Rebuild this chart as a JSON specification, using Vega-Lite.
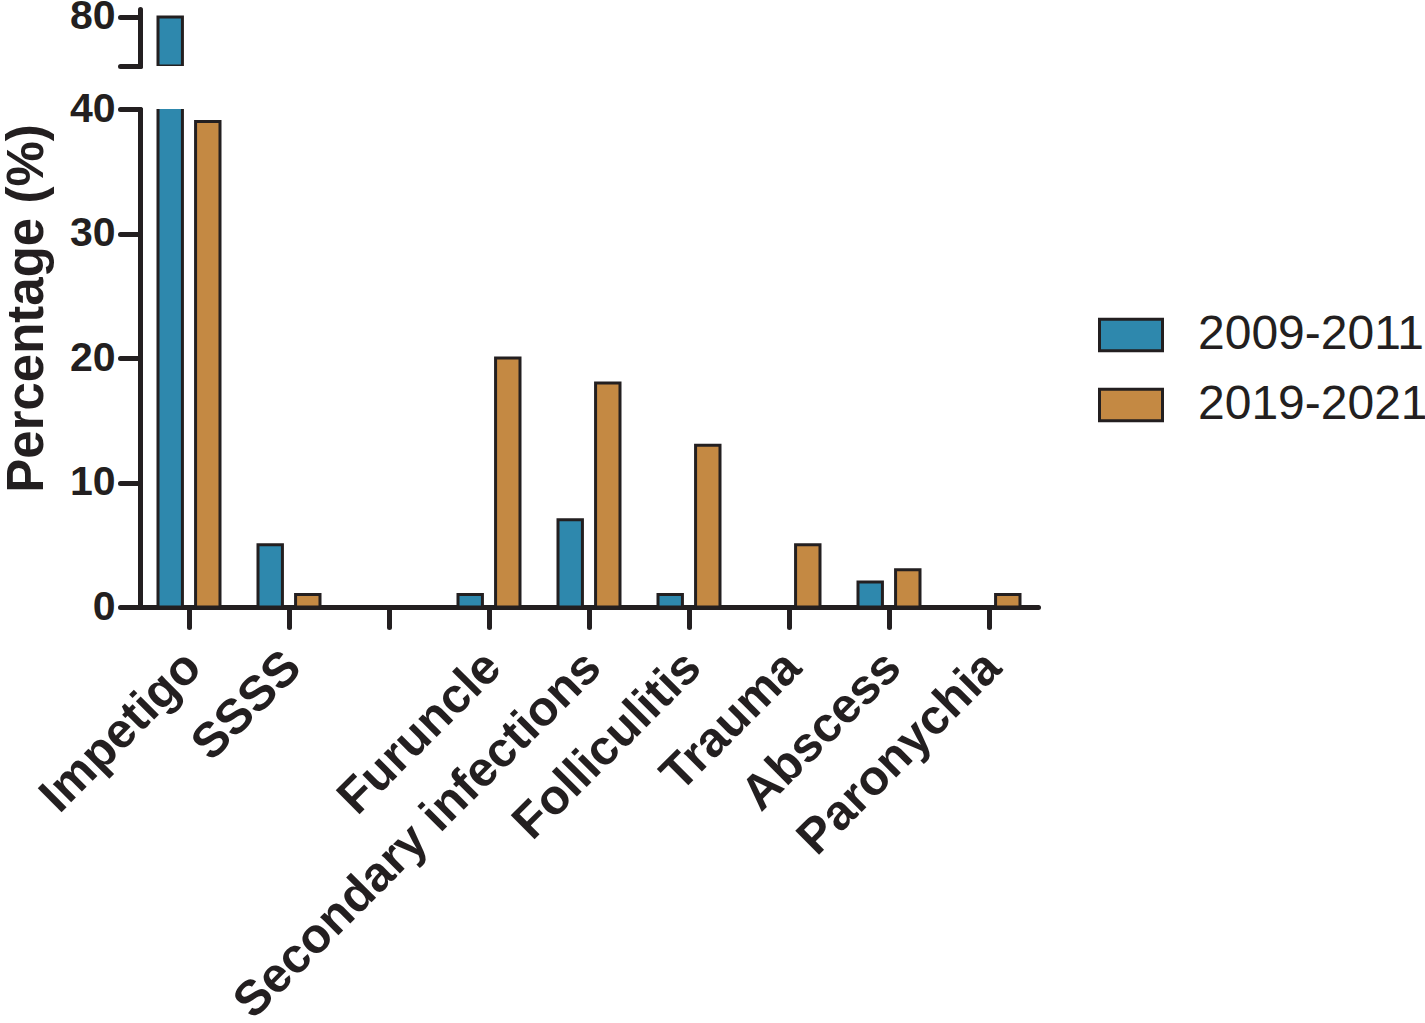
{
  "$schema": "https://vega.github.io/schema/vega-lite/v6.json",
  "padding": {"left": 0, "top": -5, "right": 0, "bottom": 0},
  "background": "white",
  "data": {
    "values": [
      {"category": "Impetigo", "period": "2009-2011", "value": 80},
      {"category": "Impetigo", "period": "2019-2021", "value": 39},
      {"category": "SSSS", "period": "2009-2011", "value": 5},
      {"category": "SSSS", "period": "2019-2021", "value": 1},
      {"category": " ", "period": "2009-2011", "value": 0},
      {"category": " ", "period": "2019-2021", "value": 0},
      {"category": "Furuncle", "period": "2009-2011", "value": 1},
      {"category": "Furuncle", "period": "2019-2021", "value": 20},
      {"category": "Secondary infections", "period": "2009-2011", "value": 7},
      {"category": "Secondary infections", "period": "2019-2021", "value": 18},
      {"category": "Folliculitis", "period": "2009-2011", "value": 1},
      {"category": "Folliculitis", "period": "2019-2021", "value": 13},
      {"category": "Trauma", "period": "2009-2011", "value": 0},
      {"category": "Trauma", "period": "2019-2021", "value": 5},
      {"category": "Abscess", "period": "2009-2011", "value": 2},
      {"category": "Abscess", "period": "2019-2021", "value": 3},
      {"category": "Paronychia", "period": "2009-2011", "value": 0},
      {"category": "Paronychia", "period": "2019-2021", "value": 1}
    ]
  },
  "spacing": 19,
  "vconcat": [
    {
      "width": 898,
      "height": 57,
      "transform": [{"filter": "datum.value >= 76"}],
      "mark": {"type": "bar", "clip": true, "stroke": "#231f20", "strokeWidth": 3},
      "encoding": {
        "x": {
          "field": "category", "type": "nominal", "sort": null,
          "scale": {"domain": ["Impetigo", "SSSS", " ", "Furuncle", "Secondary infections", "Folliculitis", "Trauma", "Abscess", "Paronychia"], "paddingInner": 0.38, "paddingOuter": 0.18},
          "axis": null
        },
        "xOffset": {"field": "period", "type": "nominal", "scale": {"domain": ["2009-2011", "2019-2021"], "paddingInner": 0.35}},
        "y": {
          "field": "value", "type": "quantitative",
          "scale": {"domain": [76, 80.65], "zero": false, "nice": false},
          "axis": {"values": [76, 80], "labelExpr": "datum.value == 80 ? '80' : ''", "title": null, "labelFontSize": 41, "labelPadding": 5}
        },
        "y2": {"datum": 76},
        "color": {
          "field": "period", "type": "nominal",
          "scale": {"domain": ["2009-2011", "2019-2021"], "range": ["#2e88ad", "#c48943"]},
          "legend": {
            "orient": "none", "legendX": 958, "legendY": 293, "title": null,
            "symbolType": "M-1,-0.5H1V0.5H-1Z", "symbolSize": 3969,
            "symbolStrokeColor": "#231f20", "symbolStrokeWidth": 3,
            "labelFontSize": 48, "labelFont": "Liberation Sans", "labelFontWeight": "normal",
            "labelColor": "#231f20", "labelOffset": 34, "rowPadding": 13, "labelLimit": 400
          }
        }
      }
    },
    {
      "width": 898,
      "height": 498,
      "mark": {"type": "bar", "clip": true, "stroke": "#231f20", "strokeWidth": 3},
      "encoding": {
        "x": {
          "field": "category", "type": "nominal", "sort": null,
          "scale": {"domain": ["Impetigo", "SSSS", " ", "Furuncle", "Secondary infections", "Folliculitis", "Trauma", "Abscess", "Paronychia"], "paddingInner": 0.38, "paddingOuter": 0.18},
          "axis": {"title": null, "labelAngle": -45, "labelFontSize": 49, "labelAlign": "right", "labelBaseline": "middle", "labelPadding": 32, "labelOffset": 4, "labelLimit": 700, "labelOverlap": false}
        },
        "xOffset": {"field": "period", "type": "nominal", "scale": {"domain": ["2009-2011", "2019-2021"], "paddingInner": 0.35}},
        "y": {
          "field": "value", "type": "quantitative",
          "scale": {"domain": [0, 40], "nice": false},
          "axis": {
            "values": [0, 10, 20, 30, 40], "labelFontSize": 41, "labelPadding": 5,
            "title": "Percentage (%)", "titleFontSize": 51, "titleAngle": 270,
            "titleX": -98, "titleY": 199, "titleAlign": "center", "titleBaseline": "alphabetic"
          }
        },
        "color": {
          "field": "period", "type": "nominal",
          "scale": {"domain": ["2009-2011", "2019-2021"], "range": ["#2e88ad", "#c48943"]}
        }
      }
    }
  ],
  "config": {
    "view": {"stroke": null},
    "axis": {
      "domainColor": "#231f20", "domainWidth": 5, "domainCap": "round",
      "tickColor": "#231f20", "tickWidth": 5, "tickSize": 20, "tickCap": "round",
      "labelFont": "Liberation Sans", "labelFontWeight": "bold", "labelColor": "#231f20",
      "titleFont": "Liberation Sans", "titleFontWeight": "bold", "titleColor": "#231f20",
      "grid": false, "zindex": 1
    }
  }
}
